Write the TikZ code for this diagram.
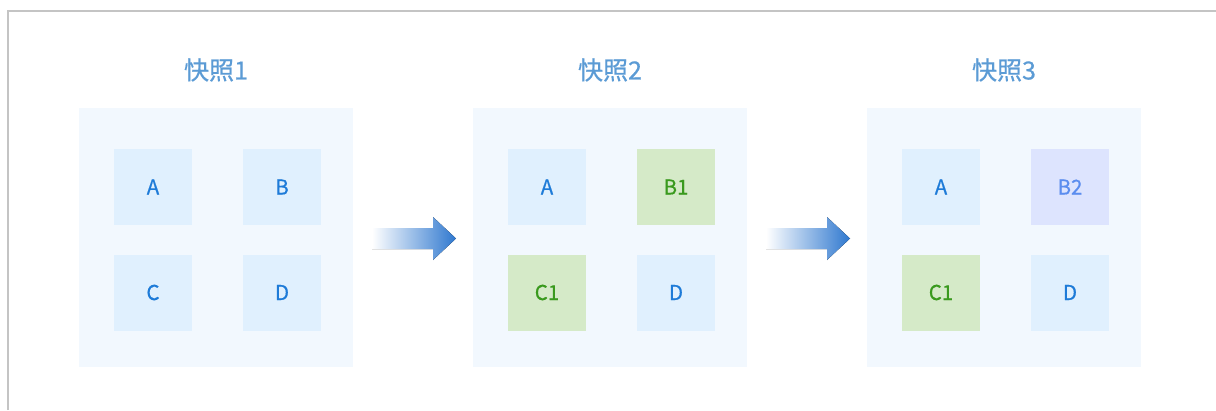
\documentclass[tikz,border=0pt]{standalone}
\usepackage{fontspec}
\setmainfont{Noto Sans CJK SC}
\newfontfamily\cellfont[FakeBold=0.6]{Noto Sans CJK SC}
\begin{document}
\begin{tikzpicture}[x=1pt,y=-1pt,
  panel/.style={fill=panelbg,draw=none,minimum width=274pt,minimum height=259pt,inner sep=0pt},
  cell/.style={fill=cellbg,draw=none,minimum width=78pt,minimum height=76pt,inner sep=0pt,text=celltxt,font=\cellfont\fontsize{20.5}{20.5}\selectfont},
  greencell/.style={cell,fill=greenbg,text=greentxt},
  purplecell/.style={cell,fill=purplebg,text=purpletxt},
  title/.style={text=titletxt,font=\cellfont\fontsize{25}{25}\selectfont,inner sep=0pt},
  flowarrow/.style={left color=white,right color=arrowblue,draw=none}
]
\definecolor{panelbg}{HTML}{F2F8FE}
\definecolor{cellbg}{HTML}{E0F0FE}
\definecolor{celltxt}{HTML}{1E7BD8}
\definecolor{greenbg}{HTML}{D5EAC8}
\definecolor{greentxt}{HTML}{3A9A1E}
\definecolor{purplebg}{HTML}{DDE4FE}
\definecolor{purpletxt}{HTML}{5B8DEF}
\definecolor{titletxt}{HTML}{5B9BD5}
\definecolor{arrowblue}{HTML}{2F78CF}
\definecolor{framegray}{HTML}{C4C4C4}
\useasboundingbox (0,0) rectangle (1216,410);
\fill[white] (0,0) rectangle (1216,410);
\draw[framegray,line width=1.5pt] (8,410) -- (8,11) -- (1216,11);
% panels
\foreach \i/\cx in {1/216,2/610,3/1004}{
  \node[panel] (p\i) at (\cx,237.5) {};
  \node[title] (t\i) at (\cx,70) {快照\i};
}
% panel 1
\node[cell] (a1) at (153,187) {A};
\node[cell] (b1) at (282,187) {B};
\node[cell] (c1) at (153,292.5) {C};
\node[cell] (d1) at (282,292.5) {D};
% panel 2
\node[cell] (a2) at (547,187) {A};
\node[greencell] (b2) at (676,187) {B1};
\node[greencell] (c2) at (547,292.5) {C1};
\node[cell] (d2) at (676,292.5) {D};
% panel 3
\node[cell] (a3) at (941,187) {A};
\node[purplecell] (b3) at (1070,187) {B2};
\node[greencell] (c3) at (941,292.5) {C1};
\node[cell] (d3) at (1070,292.5) {D};
% arrows
\foreach \s in {0,394}{
  \fill[flowarrow] (372+\s,228) -- (433+\s,228) -- (433+\s,217) -- (456+\s,238.5) -- (433+\s,260) -- (433+\s,249) -- (372+\s,249) -- cycle;
}
\end{tikzpicture}
\end{document}
